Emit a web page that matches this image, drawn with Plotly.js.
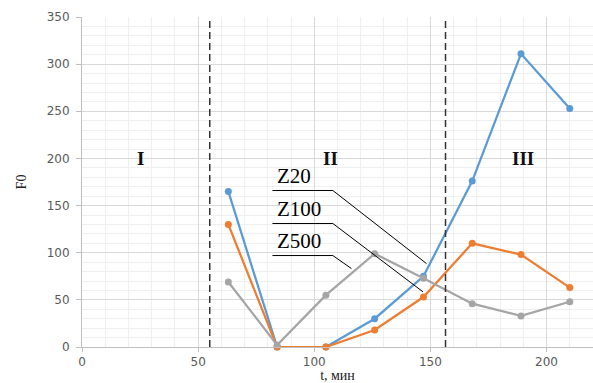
<!DOCTYPE html>
<html>
<head>
<meta charset="utf-8">
<script src="https://cdn.plot.ly/plotly-3.0.1.min.js"></script>
<style>
html,body{margin:0;padding:0;background:#fff;}
#chart{width:593px;height:383px;}
</style>
</head>
<body>
<div id="chart"></div>
<script>
// Data
const timeMin = [63, 84, 105, 126, 147, 168, 189, 210];
const seriesNames = ["Z20", "Z100", "Z500"];
const z20 = [165, 0, 0, 30, 75, 176, 311, 253];
const z100 = [130, 0, 0, 18, 53, 110, 98, 63];
const z500 = [69, 2, 55, 99, 73, 46, 33, 48];
const stageBounds = [55, 156.5];
const stageLabels = ["I", "II", "III"];
const stageLabelX = [25, 107, 190];
const xTicks = [0, 50, 100, 150, 200];
const yTicks = [0, 50, 100, 150, 200, 250, 300, 350];

const colors = ["#5b9bd5", "#ed7d31", "#a5a5a5"];
const seriesData = [z20, z100, z500];

const traces = seriesData.map((vals, i) => ({
  type: "scatter",
  mode: "lines+markers",
  x: timeMin,
  y: vals,
  name: seriesNames[i],
  line: {color: colors[i], width: 2.25},
  marker: {color: colors[i], size: 7, symbol: "circle"},
  showlegend: false,
  cliponaxis: false
}));

const shapes = stageBounds.map(b => ({
  type: "line", xref: "x", yref: "y",
  x0: b, x1: b, y0: 0, y1: 350,
  line: {color: "#333333", width: 1.5, dash: "7px,4px"}
}));

// leader lines for series labels
const leaderY = [166, 131, 97];
const leaderEnd = [[148.3, 88.5], [146.8, 58.5], [116, 83.2]];
leaderY.forEach((ly, i) => {
  shapes.push({type: "path", xref: "x", yref: "y",
    path: `M 82,${ly} L 108,${ly} L ${leaderEnd[i][0]},${leaderEnd[i][1]}`,
    line: {color: "#000000", width: 1}});
});

const annotations = [];
stageLabels.forEach((s, i) => {
  annotations.push({x: stageLabelX[i], y: 200, xref: "x", yref: "y", text: "<b>" + s + "</b>",
    showarrow: false, font: {family: "Liberation Serif, serif", size: 19, color: "#111"},
    xanchor: "center", yanchor: "middle"});
});
seriesNames.forEach((n, i) => {
  annotations.push({x: 83.3, y: leaderY[i] + 15, xref: "x", yref: "y", text: n,
    showarrow: false, font: {family: "Liberation Serif, serif", size: 21, color: "#000"},
    xanchor: "left", yanchor: "middle"});
});

const layout = {
  width: 593, height: 383,
  margin: {l: 82, r: 0, t: 17, b: 36},
  paper_bgcolor: "#ffffff",
  plot_bgcolor: "#ffffff",
  xaxis: {
    range: [0, 220],
    tickvals: xTicks,
    ticks: "outside", ticklen: 4, tickcolor: "#bfbfbf",
    showline: true, linecolor: "#bfbfbf", linewidth: 1,
    showgrid: true, gridcolor: "#d9d9d9", gridwidth: 1,
    minor: {dtick: 10, showgrid: true, gridcolor: "#efefef", gridwidth: 1},
    zeroline: false,
    tickfont: {family: "DejaVu Sans, sans-serif", size: 12, color: "#595959"},
    title: {text: "t, мин", font: {family: "Liberation Serif, serif", size: 14, color: "#222"}, standoff: 2}
  },
  yaxis: {
    range: [0, 350],
    tickvals: yTicks,
    ticks: "outside", ticklen: 5, tickcolor: "#bfbfbf",
    showline: true, linecolor: "#bfbfbf", linewidth: 1,
    showgrid: true, gridcolor: "#d9d9d9", gridwidth: 1,
    minor: {dtick: 10, showgrid: true, gridcolor: "#efefef", gridwidth: 1},
    zeroline: false,
    ticklabelstandoff: 4,
    tickfont: {family: "DejaVu Sans, sans-serif", size: 12, color: "#595959"},
    title: {text: "F0", font: {family: "Liberation Serif, serif", size: 14, color: "#222"}, standoff: 16}
  },
  shapes: shapes,
  annotations: annotations
};

Plotly.newPlot("chart", traces, layout, {displayModeBar: false, staticPlot: true});
</script>
</body>
</html>
